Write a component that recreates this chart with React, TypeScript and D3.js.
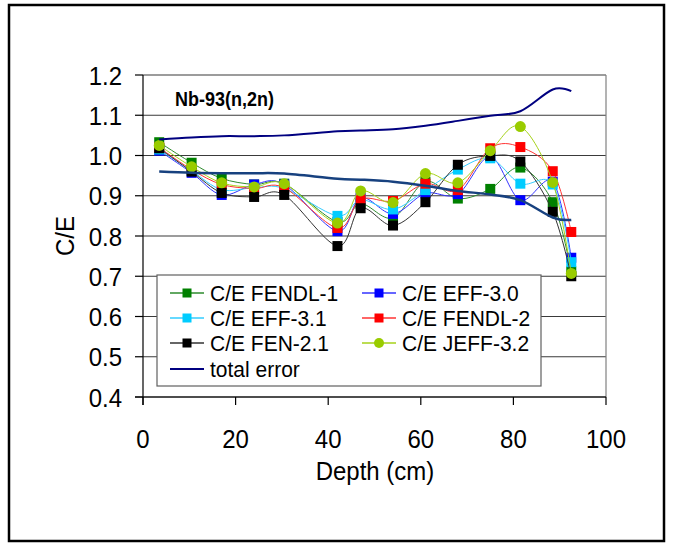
import React from "react";
import * as d3 from "d3";

const depth = [3.5, 10.5, 17, 24, 30.5, 42, 47, 54, 61, 68, 75, 81.5, 88.5, 92.5];

const fendl1 = [1.033, 0.982, 0.943, 0.928, 0.930, 0.835, 0.880, 0.845, 0.935, 0.893, 0.917, 0.970, 0.884, 0.712];
const eff30 = [1.012, 0.957, 0.902, 0.928, 0.928, 0.812, 0.895, 0.855, 0.906, 0.904, 0.997, 0.889, 0.935, 0.746];
const eff31 = [1.015, 0.962, 0.915, 0.920, 0.918, 0.850, 0.890, 0.866, 0.914, 0.965, 0.993, 0.930, 0.928, 0.735];
const fendl2 = [1.020, 0.965, 0.928, 0.918, 0.920, 0.820, 0.891, 0.887, 0.930, 0.914, 1.018, 1.021, 0.961, 0.810];
const fen21 = [1.018, 0.960, 0.907, 0.897, 0.902, 0.775, 0.869, 0.826, 0.884, 0.977, 0.999, 0.985, 0.860, 0.700];
const jeff32 = [1.025, 0.972, 0.932, 0.922, 0.930, 0.832, 0.912, 0.883, 0.955, 0.932, 1.012, 1.072, 0.933, 0.707];
const errUpper = [1.040, 1.045, 1.048, 1.048, 1.050, 1.060, 1.062, 1.065, 1.074, 1.086, 1.099, 1.110, 1.164, 1.160];
const errLower = [0.960, 0.957, 0.956, 0.956, 0.955, 0.942, 0.940, 0.935, 0.925, 0.912, 0.903, 0.889, 0.846, 0.840];

const yTicks = [0.4, 0.5, 0.6, 0.7, 0.8, 0.9, 1.0, 1.1, 1.2];
const xTicks = [0, 20, 40, 60, 80, 100];

const seriesNames = ["C/E FENDL-1", "C/E EFF-3.0", "C/E EFF-3.1", "C/E FENDL-2", "C/E FEN-2.1", "C/E JEFF-3.2"];
const seriesValues = [fendl1, eff30, eff31, fendl2, fen21, jeff32];
const seriesLine = ["#2e8b2e", "#3333ff", "#33ccff", "#ff3333", "#333333", "#a6d21a"];
const seriesMarker = ["#008000", "#0000ff", "#00ccff", "#ff0000", "#000000", "#99cc00"];
const seriesShape = ["square", "square", "square", "square", "square", "circle"];

const FONT = "'Liberation Sans', Arial, sans-serif";

const x = d3.scaleLinear().domain([0, 100]).range([143, 606]);
const y = d3.scaleLinear().domain([0.4, 1.2]).range([397, 75]);

function SText({ x: tx, y: ty, size, sy = 1.08, anchor = "start", weight = "normal", rotate = 0, children }: any) {
  return (
    <text
      transform={`translate(${tx},${ty}) rotate(${rotate}) scale(1,${sy})`}
      fontFamily={FONT}
      fontSize={size}
      fontWeight={weight}
      textAnchor={anchor}
      fill="#000"
    >
      {children}
    </text>
  );
}

function Marker({ cx, cy, shape, color, size }: any) {
  if (shape === "circle") {
    return <circle cx={cx} cy={cy} r={size / 2 + 0.5} fill={color} />;
  }
  return <rect x={cx - size / 2} y={cy - size / 2} width={size} height={size} fill={color} />;
}

export default function App() {
  const line = d3
    .line<[number, number]>()
    .x((d) => x(d[0]))
    .y((d) => y(d[1]))
    .curve(d3.curveCardinal.tension(0));

  const pts = (vals: number[]) => depth.map((d, i) => [d, vals[i]] as [number, number]);

  const legendItems = [
    { col: 0, row: 0, idx: 0 },
    { col: 1, row: 0, idx: 1 },
    { col: 0, row: 1, idx: 2 },
    { col: 1, row: 1, idx: 3 },
    { col: 0, row: 2, idx: 4 },
    { col: 1, row: 2, idx: 5 },
  ];
  const colX = [170, 362];
  const rowY = [293, 318, 343, 369];

  return (
    <svg
      width={675}
      height={543}
      style={{ position: "absolute", left: 0, top: 0, background: "#fff" }}
    >
      <rect x={0} y={0} width={675} height={543} fill="#fff" />
      {/* outer frame */}
      <rect x={9} y={5} width={655} height={536} fill="none" stroke="#000" strokeWidth={2.5} />

      {/* gridlines */}
      {yTicks.map((t) => (
        <line key={"g" + t} x1={143} x2={606} y1={y(t)} y2={y(t)} stroke="#3a3a3a" strokeWidth={1.2} />
      ))}
      {/* plot right border */}
      <line x1={606} x2={606} y1={y(1.2)} y2={y(0.4)} stroke="#808080" strokeWidth={1.2} />

      {/* axes */}
      <line x1={143} x2={143} y1={y(1.2)} y2={y(0.4) + 8} stroke="#000" strokeWidth={1.2} />
      <line x1={135} x2={606} y1={y(0.4)} y2={y(0.4)} stroke="#000" strokeWidth={1.2} />
      {yTicks.map((t) => (
        <line key={"yt" + t} x1={135} x2={143} y1={y(t)} y2={y(t)} stroke="#000" strokeWidth={1.2} />
      ))}
      {xTicks.map((t) => (
        <line key={"xt" + t} x1={x(t)} x2={x(t)} y1={y(0.4)} y2={y(0.4) + 8} stroke="#000" strokeWidth={1.2} />
      ))}
      {yTicks.map((t) => (
        <SText key={"yl" + t} x={122} y={y(t) + 9.5} size={24} anchor="end">
          {d3.format(".1f")(t)}
        </SText>
      ))}
      {xTicks.map((t) => (
        <SText key={"xl" + t} x={x(t)} y={448} size={24} anchor="middle">
          {String(t)}
        </SText>
      ))}
      <SText x={375} y={480} size={24} anchor="middle">
        Depth (cm)
      </SText>
      <SText x={74} y={236} size={24} anchor="middle" rotate={-90} sy={1.08}>
        C/E
      </SText>

      {/* title */}
      <SText x={175} y={106} size={18} weight="bold" sy={1.12}>
        Nb-93(n,2n)
      </SText>

      {/* series */}
      {seriesValues.map((vals, si) => (
        <g key={"s" + si}>
          <path d={line(pts(vals)) || ""} fill="none" stroke={seriesLine[si]} strokeWidth={1} />
          {depth.map((d, i) => (
            <Marker key={i} cx={x(d)} cy={y(vals[i])} shape={seriesShape[si]} color={seriesMarker[si]} size={10} />
          ))}
        </g>
      ))}

      {/* total error */}
      <path d={line(pts(errUpper)) || ""} fill="none" stroke="#000080" strokeWidth={2} />
      <path d={line(pts(errLower)) || ""} fill="none" stroke="#17417f" strokeWidth={2.5} />

      {/* legend */}
      <rect x={157} y={275} width={384} height={111} fill="#fff" stroke="#606060" strokeWidth={1.2} />
      {legendItems.map((it) => {
        const lx = colX[it.col];
        const ly = rowY[it.row];
        return (
          <g key={"l" + it.idx}>
            <line x1={lx} x2={lx + 34} y1={ly} y2={ly} stroke={seriesLine[it.idx]} strokeWidth={1.5} />
            <Marker cx={lx + 17} cy={ly} shape={seriesShape[it.idx]} color={seriesMarker[it.idx]} size={9} />
            <SText x={lx + 40} y={ly + 8} size={21} sy={1.05}>
              {seriesNames[it.idx]}
            </SText>
          </g>
        );
      })}
      <line x1={170} x2={204} y1={rowY[3]} y2={rowY[3]} stroke="#000080" strokeWidth={2} />
      <SText x={210} y={rowY[3] + 8} size={21} sy={1.05}>
        total error
      </SText>
    </svg>
  );
}
